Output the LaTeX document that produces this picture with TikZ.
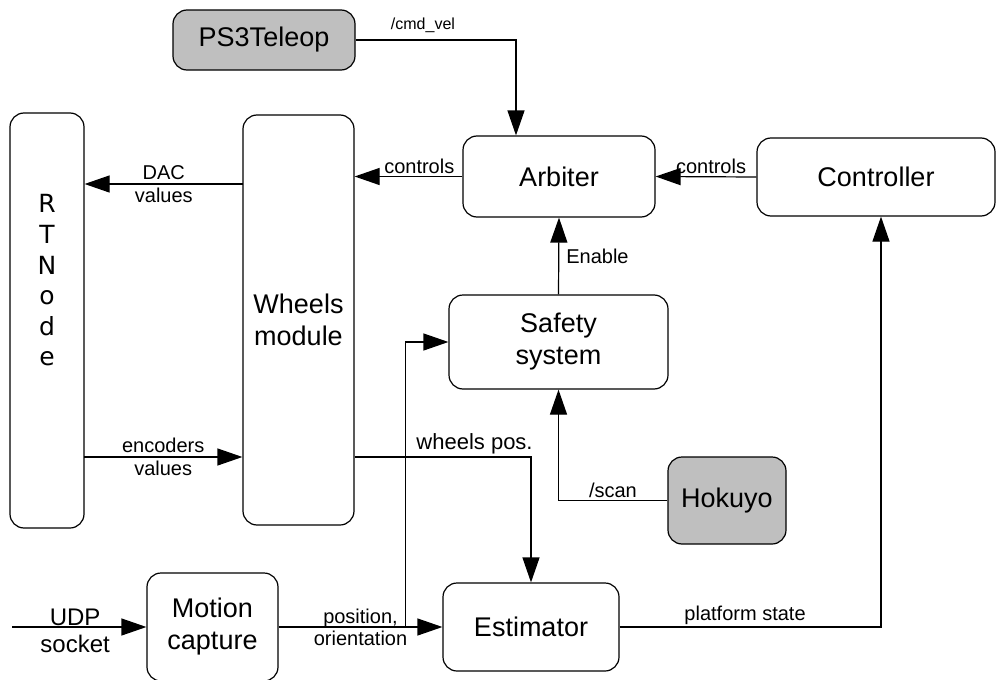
\documentclass[tikz,border=0pt]{standalone}
\usepackage{fontspec}
\setmainfont{Liberation Sans}
\newfontfamily\rtfont{DejaVu Sans}
\usetikzlibrary{arrows.meta}

\begin{document}
\begin{tikzpicture}[
    x=1pt, y=-1pt,
    block/.style={draw, line width=1.2pt, rounded corners=14pt, align=center,
        inner sep=0pt, font=\fontsize{27}{32}\selectfont},
    device/.style={block, fill=gray!50},
    lbl/.style={font=\fontsize{20}{23}\selectfont, align=center, inner sep=2pt},
    arr/.style={draw, line width=1.2pt, -{Triangle[length=25pt,width=17pt]}}
]
\useasboundingbox (0,0) rectangle (997,680);

% Blocks
\node[block, minimum width=74pt, minimum height=415pt] (rtnode) at (47,320.5) {};
\node[font=\rtfont\fontsize{25}{30.6}\selectfont, align=center] (rtname)
    at ([yshift=40pt]rtnode.center) {R\\T\\N\\o\\d\\e};
\node[block, minimum width=111pt, minimum height=410pt] (wheels) at (298.5,320) {Wheels\\module};
\node[device, minimum width=182pt, minimum height=60pt] (ps3) at (264,40) {PS3Teleop};
\node[block, minimum width=192pt, minimum height=81pt] (arbiter) at (559,176.5) {Arbiter};
\node[block, minimum width=238pt, minimum height=78pt] (controller) at (876,177) {Controller};
\node[block, minimum width=219pt, minimum height=94pt] (safety) at (558.5,342) {Safety\\system};
\node[device, minimum width=118pt, minimum height=87pt] (hokuyo) at (727,500.5) {Hokuyo};
\node[block, minimum width=176pt, minimum height=88pt] (estimator) at (531,627) {Estimator};
\node[block, minimum width=131pt, minimum height=108pt] (motion) at (212.5,627) {Motion\\capture};

% Free ends and taps
\coordinate (dac) at (243,184);
\coordinate (enc) at (84,457);
\coordinate (udp) at (12,627);
\coordinate (branch) at (405.5,627);

% Command path
\draw[arr] (ps3.east) -| node[lbl, above=5pt, pos=0.21, font=\fontsize{16}{19}\selectfont] {/cmd\_vel}
    ([xshift=-43pt]arbiter.north);
\draw[arr] (controller.west) -- node[lbl, above, pos=0.45] {controls} (arbiter.east);
\draw[arr] (arbiter.west) -- node[lbl, above, pos=0.4] {controls} (arbiter.west -| wheels.east);
\draw[arr] (dac) -- node[lbl, pos=0.5] {DAC\\values} (dac -| rtnode.east);
\draw[arr] (enc) -- node[lbl, pos=0.5] {encoders\\values} (enc -| wheels.west);

% Safety
\draw[arr] (safety.north) -- node[lbl, right=5pt, pos=0.5] {Enable} (arbiter.south);
\draw[arr] (hokuyo.west) -| node[lbl, above, pos=0.25] {/scan} (safety.south);

% Estimation
\draw[arr] (wheels.east |- enc) -| node[lbl, above, pos=0.34, font=\fontsize{22}{25}\selectfont] {wheels pos.} (estimator.north);
\draw[arr] (motion.east) -- node[lbl, pos=0.5, font=\fontsize{20}{22}\selectfont] {position,\\orientation} (estimator.west);
\draw[arr] (branch) |- (safety.west);
\draw[arr] (estimator.east) -| node[lbl, above, pos=0.24] {platform state} ([xshift=5pt]controller.south);
\draw[arr] (udp) -- node[lbl, pos=0.47, yshift=-4pt, font=\fontsize{24}{27}\selectfont] {UDP\\socket} (udp -| motion.west);

\end{tikzpicture}
\end{document}
